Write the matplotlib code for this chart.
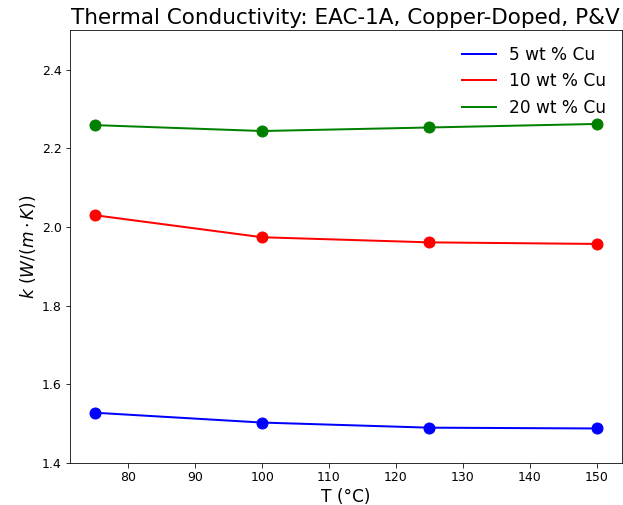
import numpy as np
import matplotlib.pyplot as plt

# temperatures (deg C) and measured conductivity for each Cu loading
T = [75, 100, 125, 150]
k_5 = [1.528, 1.503, 1.490, 1.488]
k_10 = [2.030, 1.974, 1.961, 1.957]
k_20 = [2.259, 2.244, 2.253, 2.262]

labels = ["5 wt % Cu", "10 wt % Cu", "20 wt % Cu"]
colors = ["blue", "red", "green"]

fig = plt.figure(figsize=(623 / 72, 505 / 72), dpi=72)
ax = fig.add_axes([0.112, 0.083, 0.886, 0.857])

for k, lab, c in zip([k_5, k_10, k_20], labels, colors):
    ax.plot(T, k, color=c, lw=2, label=lab)
    ax.plot(T, k, "o", color=c, ms=11)

ax.set_ylim(1.4, 2.5)
ax.tick_params(labelsize=12.5, length=4.5)
ax.set_xlabel("T (°C)", fontsize=17)
ax.set_ylabel(r"$k\ (W/(m \cdot K))$", fontsize=17)
ax.set_title("Thermal Conductivity: EAC-1A, Copper-Doped, P&V", fontsize=21.5)
ax.legend(loc="upper right", fontsize=17, frameon=False)

fig.savefig("out.png", dpi=72)
